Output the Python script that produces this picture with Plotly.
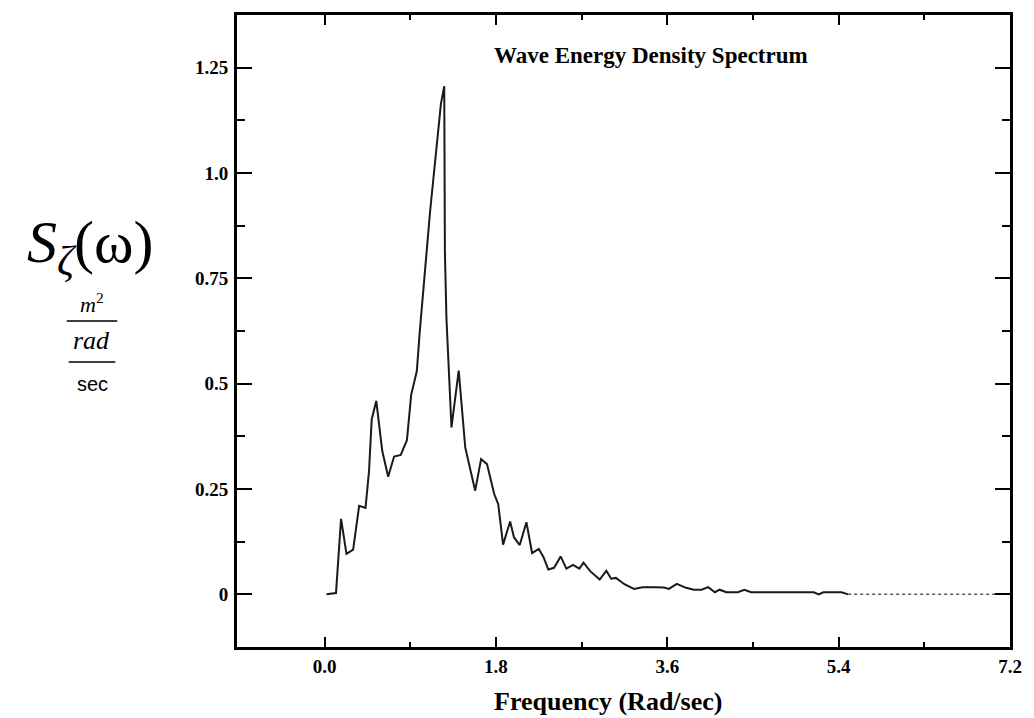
import plotly.graph_objects as go

# ---- data ----
freq = [0.02, 0.12, 0.173, 0.23, 0.30, 0.363, 0.43, 0.467, 0.495, 0.543,
        0.606, 0.668, 0.73, 0.80, 0.865, 0.91, 0.969, 1.0, 1.108, 1.222,
        1.257, 1.264, 1.28, 1.30, 1.333, 1.409, 1.478, 1.582, 1.644, 1.706,
        1.782, 1.824, 1.875, 1.949, 1.99, 2.05, 2.12, 2.18, 2.25, 2.30,
        2.35, 2.41, 2.48, 2.54, 2.61, 2.676, 2.72, 2.79, 2.89, 2.96,
        3.01, 3.06, 3.15, 3.25, 3.34, 3.48, 3.565, 3.617, 3.70, 3.79,
        3.877, 3.96, 4.03, 4.10, 4.15, 4.22, 4.34, 4.41, 4.48, 5.14,
        5.19, 5.24, 5.43, 5.50]
spec = [0.0, 0.003, 0.179, 0.096, 0.106, 0.21, 0.205, 0.293, 0.415, 0.459,
        0.34, 0.279, 0.327, 0.331, 0.366, 0.474, 0.53, 0.624, 0.908, 1.164,
        1.206, 0.813, 0.656, 0.55, 0.396, 0.531, 0.348, 0.246, 0.321, 0.309,
        0.238, 0.214, 0.118, 0.173, 0.135, 0.117, 0.171, 0.098, 0.108, 0.088,
        0.059, 0.063, 0.09, 0.061, 0.07, 0.061, 0.075, 0.055, 0.035, 0.056,
        0.037, 0.039, 0.024, 0.013, 0.017, 0.017, 0.016, 0.013, 0.025, 0.016,
        0.011, 0.011, 0.017, 0.005, 0.011, 0.005, 0.005, 0.011, 0.005, 0.005,
        0.0, 0.005, 0.005, 0.0]
tail_freq = [5.50, 7.05]
tail_spec = [0.0, 0.0]

x_ticks = [0.0, 1.8, 3.6, 5.4, 7.2]
x_ticktext = ["0.0", "1.8", "3.6", "5.4", "7.2"]
x_minor = [0.9, 2.7, 4.5, 6.3]
y_ticks = [0, 0.25, 0.5, 0.75, 1.0, 1.25]
y_ticktext = ["0", "0.25", "0.5", "0.75", "1.0", "1.25"]
y_minor = [0.125, 0.375, 0.625, 0.875, 1.125]

title_text = "Wave Energy Density Spectrum"
x_title = "Frequency (Rad/sec)"

# ---- layout geometry (window pixels) ----
W, H = 1034, 718
L, R, T, B = 237, 16, 13, 71
PW, PH = W - L - R, H - T - B


def px(x):
    return (x - L) / PW


def py(y):
    return (H - B - y) / PH


serif = "Liberation Serif, Times New Roman, serif"

fig = go.Figure()
fig.add_trace(go.Scatter(x=freq, y=spec, mode="lines",
                         line=dict(color="#1a1a1a", width=2),
                         showlegend=False, hoverinfo="skip"))
fig.add_trace(go.Scatter(x=tail_freq, y=tail_spec, mode="lines",
                         line=dict(color="#555555", width=1.5, dash="dot"),
                         showlegend=False, hoverinfo="skip"))

axis_common = dict(showgrid=False, zeroline=False, showline=True,
                   linecolor="black", linewidth=3, mirror="allticks",
                   ticks="inside", tickcolor="black", tickwidth=2,
                   tickfont=dict(family=serif, size=19, color="black"))

fig.update_xaxes(range=[-0.92, 7.2], tickmode="array", tickvals=x_ticks,
                 ticktext=["<b>%s</b>" % t for t in x_ticktext], ticklen=10,
                 minor=dict(tickmode="array", tickvals=x_minor, ticks="inside",
                            ticklen=5, tickwidth=2, tickcolor="black"),
                 **axis_common)
fig.update_yaxes(range=[-0.125, 1.375], tickmode="array", tickvals=y_ticks,
                 ticktext=["<b>%s</b>" % t for t in y_ticktext], ticklen=15,
                 minor=dict(tickmode="array", tickvals=y_minor, ticks="inside",
                            ticklen=8, tickwidth=2, tickcolor="black"),
                 ticklabelstandoff=2,
                 **axis_common)

annotations = [
    dict(text="<b>" + title_text + "</b>", x=px(655), y=py(54),
         font=dict(family=serif, size=23, color="black")),
    dict(text="<b>" + x_title + "</b>", x=px(612), y=py(702),
         font=dict(family=serif, size=26, color="black")),
    dict(text="<i>S</i><sub><i>ζ</i></sub>(ω)", x=px(88), y=py(245),
         font=dict(family=serif, size=60, color="black")),
    dict(text="<i>m</i><sup>2</sup>", x=px(90), y=py(302),
         font=dict(family=serif, size=22, color="black")),
    dict(text="<i>rad</i>", x=px(90), y=py(340),
         font=dict(family=serif, size=26, color="black")),
    dict(text="sec", x=px(91), y=py(383),
         font=dict(family="Liberation Sans, Arial, sans-serif", size=20,
                   color="black")),
]
for a in annotations:
    a.update(xref="paper", yref="paper", showarrow=False,
             xanchor="center", yanchor="middle")

shapes = [
    dict(type="line", xref="paper", yref="paper", x0=px(65), x1=px(116),
         y0=py(320), y1=py(320), line=dict(color="black", width=1.5)),
    dict(type="line", xref="paper", yref="paper", x0=px(67), x1=px(114),
         y0=py(361), y1=py(361), line=dict(color="black", width=1.5)),
]

fig.update_layout(width=W, height=H, autosize=False,
                  margin=dict(l=L, r=R, t=T, b=B),
                  paper_bgcolor="white", plot_bgcolor="white",
                  annotations=annotations, shapes=shapes)

fig.write_html("out.html", config={"displayModeBar": False},
               post_script="document.body.style.margin='0';")
